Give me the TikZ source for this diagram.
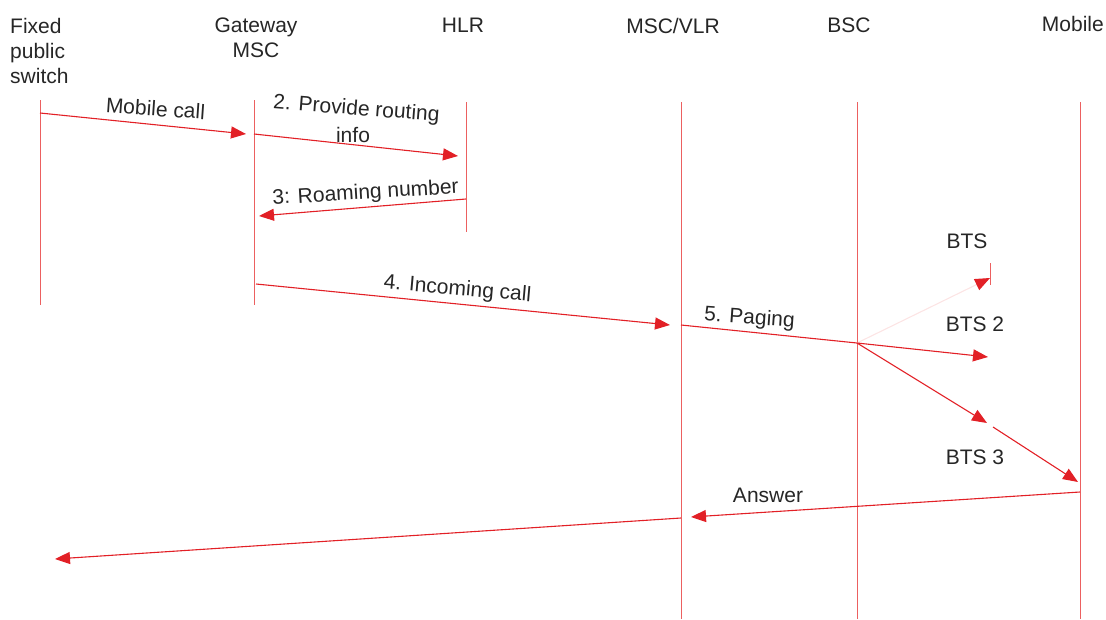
\documentclass[tikz,border=0pt]{standalone}
\usepackage{fontspec}
\setmainfont{Liberation Sans}
\usetikzlibrary{arrows.meta}
\definecolor{msgred}{RGB}{226,32,38}
\definecolor{lifered}{RGB}{236,96,96}
\definecolor{faintred}{RGB}{252,228,228}
\begin{document}
\begin{tikzpicture}[x=1pt,y=-1pt,
  every node/.style={inner sep=0pt, text=black!85, font=\fontsize{21}{25}\selectfont},
  lifeline/.style={draw=lifered, line width=0.8pt},
  msg/.style={draw=msgred, line width=1.1pt, -{Triangle[length=15pt,width=12pt]}},
  lbl/.style={anchor=base}]
\useasboundingbox (0,0) rectangle (1106,619);

% entity headings
\node[anchor=north west, align=left] (hfix) at (10,18) {Fixed\\public\\switch};
\node[anchor=north, align=center] (hgw) at (256,18) {Gateway\\MSC};
\node[anchor=north] (hhlr) at (463,18) {HLR};
\node[anchor=north] (hvlr) at (673,18) {MSC/VLR};
\node[anchor=north] (hbsc) at (849,18) {BSC};
\node[anchor=north east] (hmob) at (1104,16) {Mobile};

% lifelines
\coordinate (fixT) at (40,100);  \coordinate (fixB) at (40,305);
\coordinate (gwT)  at (254,100); \coordinate (gwB)  at (254,305);
\coordinate (hlrT) at (466,102); \coordinate (hlrB) at (466,232);
\coordinate (vlrT) at (681,102); \coordinate (vlrB) at (681,619);
\coordinate (bscT) at (857,102); \coordinate (bscB) at (857,619);
\coordinate (mobT) at (1080,102); \coordinate (mobB) at (1080,619);
\coordinate (btsT) at (990,263); \coordinate (btsB) at (990,285);
\foreach \a/\b in {fixT/fixB, gwT/gwB, hlrT/hlrB, vlrT/vlrB, bscT/bscB, mobT/mobB, btsT/btsB}
  \draw[lifeline] (\a) -- (\b);

% base stations
\node[lbl] (bts1) at (967,248) {BTS};
\node[lbl] (bts2) at (975,331) {BTS 2};
\node[lbl] (bts3) at (975,464) {BTS 3};

% message end points
\coordinate (m1s) at (40,113);   \coordinate (m1e) at (246,134);
\coordinate (m2s) at (254,134);  \coordinate (m2e) at (458,156);
\coordinate (m3s) at (466,199);  \coordinate (m3e) at (259,216);
\coordinate (m4s) at (256,284);  \coordinate (m4e) at (670,325);
\coordinate (m5s) at (681,325);  \coordinate (bscP) at (857,343);
\coordinate (b1e) at (990,278);
\coordinate (b2e) at (988,357);
\coordinate (b3e) at (987,423);  \coordinate (b3s) at (993,427);
\coordinate (mobE) at (1078,482);
\coordinate (a1s) at (1080,492); \coordinate (a1e) at (691,517);
\coordinate (a2s) at (681,518);  \coordinate (a2e) at (55,559);

% messages
\draw[msg] (m1s) -- (m1e);
\draw[msg] (m2s) -- (m2e);
\draw[msg] (m3s) -- (m3e);
\draw[msg] (m4s) -- (m4e);
\draw[draw=msgred, line width=1.1pt] (m5s) -- (bscP);
\draw[msg, draw=faintred, -{Triangle[length=15pt,width=12pt,color=msgred]}] (bscP) -- (b1e);
\draw[msg] (bscP) -- (b2e);
\draw[msg] (bscP) -- (b3e);
\draw[msg] (b3s) -- (mobE);
\draw[msg] (a1s) -- (a1e);
\draw[msg] (a2s) -- (a2e);

% message labels
\node[lbl, rotate=-4] (t1) at (155,116) {Mobile call};
\node[lbl, rotate=-4.5] (t2) at (356,115) {2. Provide routing};
\node[lbl] (t2b) at (353,142) {info};
\node[lbl, rotate=3.5] (t3) at (366,199) {3: Roaming number};
\node[lbl, rotate=-5] (t4) at (457,295) {4. Incoming call};
\node[lbl, rotate=-4] (t5) at (749,324) {5. Paging};
\node[lbl] (t6) at (768,502) {Answer};
\end{tikzpicture}
\end{document}
